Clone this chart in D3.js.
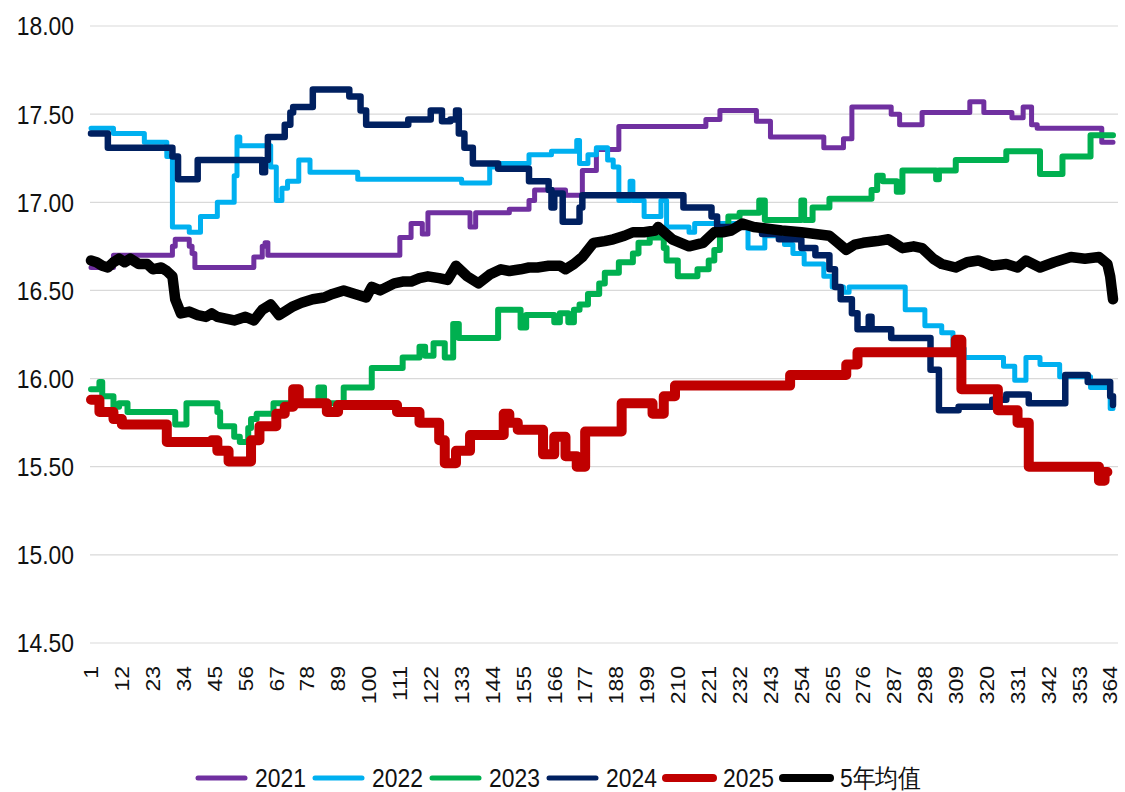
<!DOCTYPE html>
<html>
<head>
<meta charset="utf-8">
<title>5年均值</title>
<script src="https://cdn.jsdelivr.net/npm/d3@7/dist/d3.min.js"></script>
<style>
  body { margin: 0; background: #fff; }
  svg { display: block; font-family: "Liberation Sans", Arial, sans-serif; }
  .grid line { stroke: #d9d9d9; stroke-width: 1.2; }
  .ylab, .xlab, .leg { fill: #111; }
  .series { fill: none; stroke-linejoin: round; stroke-linecap: round; }
</style>
</head>
<body>
<svg></svg>
<script>
// day-of-year step points [day, value]
var s2021 = [[1,16.63],[9,16.70],[30,16.75],[31,16.79],[36,16.75],[37,16.71],[38,16.63],[59,16.69],[62,16.75],[63,16.77],[64,16.70],
  [111,16.80],[115,16.88],[119,16.82],[121,16.94],[136,16.86],[138,16.94],[150,16.96],[157,17.01],[159,17.07],[170,17.04],
  [176,17.18],[181,17.30],[189,17.43],[220,17.47],[225,17.52],[238,17.46],[243,17.37],[262,17.31],[269,17.36],[272,17.54],
  [286,17.50],[289,17.44],[297,17.51],[314,17.57],[319,17.51],[329,17.48],[333,17.54],[336,17.44],[338,17.42],[361,17.34],[365,17.34]];

var s2022 = [[1,17.42],[9,17.39],[20,17.34],[28,17.26],[30,16.86],[36,16.83],[40,16.92],[46,17.00],[52,17.15],[53,17.37],[54,17.32],
  [65,17.20],[67,17.01],[69,17.08],[71,17.12],[75,17.24],[79,17.17],[96,17.13],[133,17.11],[143,17.20],[145,17.22],[157,17.27],
  [165,17.29],[174,17.35],[175,17.22],[178,17.27],[181,17.31],[185,17.24],[187,17.20],[189,17.01],[193,17.12],[194,17.01],
  [198,16.92],[204,17.01],[206,16.86],[214,16.83],[216,16.88],[235,16.74],[241,16.81],[248,16.76],[251,16.71],[255,16.65],
  [262,16.58],[265,16.52],[269,16.49],[271,16.52],[291,16.39],[298,16.30],[304,16.26],[308,16.17],[312,16.12],[326,16.07],
  [330,15.99],[334,16.12],[339,16.08],[346,16.01],[357,15.95],[364,15.83],[365,15.83]];

var s2023 = [[1,15.94],[4,15.98],[5,15.90],[9,15.84],[11,15.86],[14,15.81],[31,15.74],[35,15.86],[46,15.81],[47,15.73],[52,15.67],
  [54,15.64],[57,15.72],[58,15.77],[60,15.80],[66,15.86],[82,15.95],[84,15.86],[91,15.95],[101,16.06],[112,16.12],[118,16.18],
  [120,16.13],[123,16.20],[127,16.12],[130,16.31],[132,16.23],[146,16.39],[154,16.29],[156,16.36],[166,16.32],[168,16.37],
  [171,16.32],[173,16.39],[175,16.42],[178,16.48],[182,16.54],[184,16.60],[189,16.66],[194,16.71],[196,16.77],[200,16.80],
  [205,16.74],[206,16.67],[210,16.58],[217,16.62],[221,16.67],[223,16.73],[225,16.86],[228,16.92],[232,16.94],[239,17.01],
  [241,16.90],[254,17.01],[255,16.90],[258,16.97],[264,17.02],[279,17.07],[281,17.15],[283,17.12],[288,17.06],[290,17.18],
  [302,17.13],[303,17.18],[309,17.24],[327,17.29],[339,17.16],[347,17.26],[357,17.38],[365,17.38]];

var s2024 = [[1,17.39],[7,17.31],[30,17.26],[32,17.13],[39,17.24],[62,17.17],[63,17.24],[64,17.37],[70,17.44],[72,17.51],[73,17.54],
  [80,17.64],[93,17.60],[97,17.52],[99,17.44],[114,17.47],[122,17.52],[126,17.46],[129,17.47],[131,17.52],[132,17.39],[134,17.31],
  [137,17.22],[146,17.19],[157,17.12],[164,17.07],[165,16.97],[166,17.05],[169,16.89],[175,16.97],[176,17.04],[212,16.97],
  [222,16.92],[224,16.86],[232,16.86],[240,16.82],[246,16.79],[254,16.74],[259,16.70],[264,16.62],[266,16.52],[268,16.45],
  [272,16.37],[274,16.28],[278,16.35],[279,16.28],[286,16.23],[300,16.05],[303,15.82],[310,15.84],[322,15.88],[327,15.91],
  [335,15.86],[348,16.02],[356,15.98],[364,15.90],[365,15.85]];

var s2025 = [[1,15.88],[4,15.81],[9,15.77],[12,15.74],[28,15.64],[44,15.65],[46,15.59],[50,15.53],[58,15.65],[61,15.73],[67,15.80],
  [70,15.84],[73,15.94],[75,15.86],[85,15.81],[89,15.85],[110,15.81],[118,15.75],[125,15.65],[127,15.52],[131,15.59],[136,15.68],
  [148,15.80],[150,15.75],[153,15.71],[162,15.57],[166,15.67],[170,15.56],[174,15.50],[177,15.70],[190,15.86],[201,15.80],
  [205,15.90],[209,15.96],[250,16.02],[270,16.08],[274,16.15],[309,16.22],[311,15.94],[324,15.82],[331,15.75],[335,15.50],
  [360,15.42],[362,15.47],[363,15.47]];

var avg5 = [[1,16.67],[3,16.66],[5,16.64],[7,16.63],[9,16.66],[11,16.68],[13,16.66],[15,16.68],[18,16.65],[21,16.65],[23,16.62],
  [26,16.63],[28,16.61],[30,16.58],[31,16.45],[33,16.37],[36,16.38],[39,16.36],[42,16.35],[44,16.37],[46,16.35],[49,16.34],
  [52,16.33],[56,16.35],[59,16.33],[62,16.39],[65,16.42],[68,16.36],[73,16.41],[76,16.43],[80,16.45],[84,16.46],[87,16.48],
  [91,16.50],[95,16.48],[99,16.46],[101,16.52],[104,16.50],[109,16.54],[112,16.55],[115,16.55],[118,16.57],[121,16.58],[125,16.57],
  [128,16.56],[131,16.64],[135,16.58],[139,16.54],[143,16.59],[147,16.62],[150,16.61],[154,16.62],[157,16.63],[160,16.63],
  [164,16.64],[168,16.64],[170,16.62],[173,16.65],[176,16.69],[180,16.77],[184,16.78],[187,16.79],[191,16.81],[194,16.83],
  [198,16.83],[202,16.84],[203,16.86],[208,16.79],[211,16.77],[214,16.75],[219,16.77],[223,16.83],[226,16.83],[229,16.84],
  [233,16.88],[237,16.86],[242,16.85],[247,16.84],[254,16.83],[259,16.82],[264,16.81],[267,16.77],[270,16.73],[273,16.76],
  [276,16.77],[281,16.78],[285,16.79],[290,16.74],[294,16.75],[297,16.74],[301,16.68],[304,16.65],[309,16.63],[313,16.66],
  [317,16.67],[322,16.64],[327,16.65],[331,16.63],[334,16.67],[339,16.63],[344,16.66],[350,16.69],[355,16.68],[360,16.69],
  [363,16.65],[364,16.58],[365,16.45]];

var seriesNames = ["2021", "2022", "2023", "2024", "2025", "5年均值"];
var yTicks = [14.5, 15.0, 15.5, 16.0, 16.5, 17.0, 17.5, 18.0];
var xTicks = [1, 12, 23, 34, 45, 56, 67, 78, 89, 100, 111, 122, 133, 144, 155, 166, 177, 188, 199, 210, 221, 232, 243, 254, 265, 276, 287, 298, 309, 320, 331, 342, 353, 364];

var config = {
  width: 1125,
  height: 792,
  textScaleX: 0.88
};

var series = [
  { name: seriesNames[0], data: s2021, color: "#7030A0", width: 5, step: true },
  { name: seriesNames[1], data: s2022, color: "#00B0F0", width: 5, step: true },
  { name: seriesNames[2], data: s2023, color: "#00B050", width: 6, step: true },
  { name: seriesNames[3], data: s2024, color: "#002060", width: 6.5, step: true },
  { name: seriesNames[4], data: s2025, color: "#C00000", width: 10, step: true },
  { name: seriesNames[5], data: avg5, color: "#000000", width: 10.5, step: false }
];

var svg = d3.select("svg")
  .attr("width", config.width)
  .attr("height", config.height);

var x = d3.scaleLinear().domain([1, 365]).range([91, 1113]);
var y = d3.scaleLinear().domain([14.5, 18]).range([643, 26]);

// horizontal gridlines
svg.append("g")
  .attr("class", "grid")
  .selectAll("line")
  .data(yTicks)
  .enter().append("line")
    .attr("x1", 90)
    .attr("x2", 1118)
    .attr("y1", function(d) { return y(d); })
    .attr("y2", function(d) { return y(d); });

// y labels (slightly condensed, like the original)
svg.append("g")
  .selectAll("text")
  .data(yTicks)
  .enter().append("text")
    .attr("class", "ylab")
    .attr("transform", function(d) { return `translate(74,${y(d)}) scale(${config.textScaleX},1)`; })
    .attr("dy", "0.36em")
    .attr("text-anchor", "end")
    .style("font-size", "26px")
    .text(d3.format(".2f"));

// x labels, rotated
svg.append("g")
  .selectAll("text")
  .data(xTicks)
  .enter().append("text")
    .attr("class", "xlab")
    .attr("transform", function(d) { return `translate(${x(d)},${666}) rotate(-90) scale(1,${config.textScaleX})`; })
    .attr("dy", "0.36em")
    .attr("text-anchor", "end")
    .style("font-size", "23px")
    .text(function(d) { return d; });

// lines
var g = svg.append("g");
series.forEach(function(s) {
  var line = d3.line()
    .x(function(d) { return x(d[0]); })
    .y(function(d) { return y(d[1]); })
    .curve(s.step ? d3.curveStepAfter : d3.curveLinear);
  g.append("path")
    .attr("class", "series")
    .attr("d", line(s.data))
    .attr("stroke", s.color)
    .attr("stroke-width", s.width);
});

// legend
var legend = svg.append("g")
  .selectAll("g")
  .data(series)
  .enter().append("g")
    .attr("transform", function(d, i) { return `translate(${198 + i * 117},778)`; });

legend.append("line")
  .attr("x1", 0).attr("x2", 47)
  .attr("stroke", function(d) { return d.color; })
  .attr("stroke-width", function(d) { return d.width > 8 ? 8 : 5; })
  .attr("stroke-linecap", "round");

legend.append("text")
  .attr("class", "leg")
  .attr("transform", `translate(57,0) scale(${config.textScaleX},1)`)
  .attr("dy", "0.36em")
  .style("font-size", "26px")
  .text(function(d) { return d.name; });
</script>
</body>
</html>
